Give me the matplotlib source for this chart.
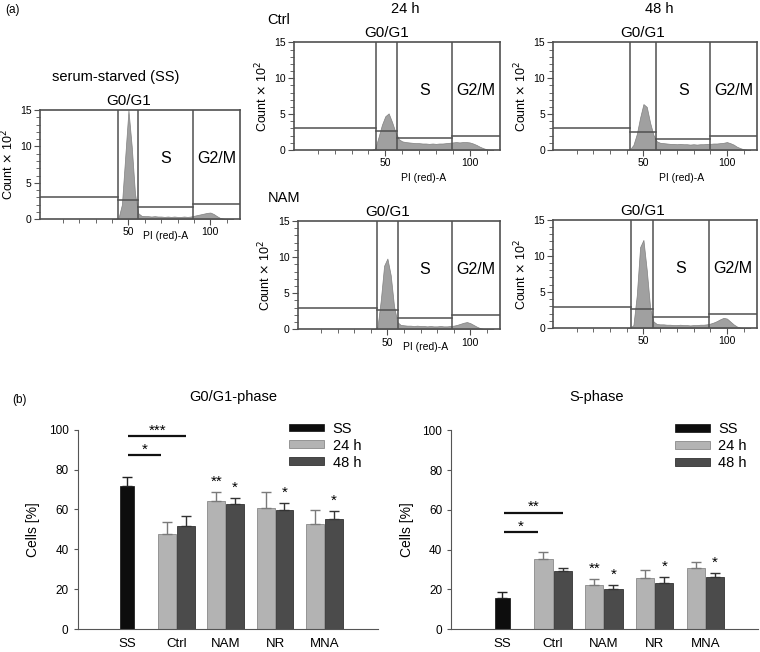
import matplotlib
matplotlib.use("Agg")
import matplotlib.pyplot as plt
import numpy as np
from matplotlib.ticker import FixedLocator, MultipleLocator

plt.rcParams["font.family"] = ["Liberation Sans", "DejaVu Sans"]

# ---- (a) flow cytometry histograms: counts (x 10^2) on a 2-unit PI grid ----
hist_x = np.arange(40, 116, 2)
ss_counts = [0, 0, 0.2, 2.0, 8.5, 15, 10, 3.5, 0.8, 0.45,
             0.4, 0.4, 0.35, 0.4, 0.35, 0.35, 0.3, 0.35, 0.3, 0.35, 0.3, 0.3, 0.35, 0.3, 0.35,
             0.45, 0.55, 0.65, 0.75, 0.85, 0.9, 0.7, 0.4, 0.15, 0.05, 0, 0, 0]
ctrl24_counts = [0, 0, 0.2, 1.8, 3.5, 4.7, 5.1, 3.9, 2.5, 1.5,
                 1.2, 1.1, 1.05, 1.0, 0.95, 0.95, 0.9, 0.9, 0.85, 0.9, 0.85, 0.9, 0.9, 0.95, 1.0,
                 1.05, 1.1, 1.05, 1.1, 1.1, 1.05, 0.9, 0.7, 0.45, 0.25, 0.1, 0.02, 0]
ctrl48_counts = [0, 0.1, 0.7, 2.2, 4.5, 6.4, 6.0, 3.8, 2.1, 1.2,
                 1.0, 0.95, 0.9, 0.85, 0.85, 0.8, 0.85, 0.8, 0.8, 0.75, 0.8, 0.75, 0.8, 0.8, 0.85,
                 0.85, 0.9, 0.9, 0.95, 1.0, 1.1, 0.95, 0.75, 0.45, 0.25, 0.1, 0.02, 0]
nam24_counts = [0, 0, 0.3, 4.0, 8.8, 9.8, 7.5, 3.2, 1.0, 0.6,
                0.55, 0.5, 0.5, 0.45, 0.5, 0.45, 0.45, 0.4, 0.45, 0.4, 0.4, 0.45, 0.4, 0.4, 0.45,
                0.5, 0.6, 0.75, 0.9, 1.0, 0.85, 0.6, 0.35, 0.15, 0.05, 0, 0, 0]
nam48_counts = [0, 0, 0.4, 4.5, 11.2, 12.2, 8.0, 2.8, 0.9, 0.55,
                0.5, 0.5, 0.45, 0.45, 0.4, 0.4, 0.45, 0.4, 0.4, 0.35, 0.4, 0.4, 0.45, 0.45, 0.5,
                0.6, 0.75, 0.95, 1.2, 1.4, 1.3, 0.9, 0.5, 0.2, 0.05, 0, 0, 0]

# gate borders (PI) and gate marker levels (x 10^2): left, G0/G1, S, G2/M
ss_gates, ss_levels = [43.8, 56.1, 89.6], [3.07, 2.6, 1.65, 2.05]
ctrl24_gates, ctrl24_levels = [44.4, 56.9, 89.6], [3.1, 2.65, 1.63, 2.0]
ctrl48_gates, ctrl48_levels = [41.9, 57.7, 90.1], [3.1, 2.45, 1.57, 2.0]
nam24_gates, nam24_levels = [43.6, 56.3, 89.2], [3.0, 2.7, 1.6, 2.0]
nam48_gates, nam48_levels = [42.8, 55.7, 89.0], [2.9, 2.6, 1.5, 1.95]

# ---- (b) bar charts ----
groups = ["SS", "Ctrl", "NAM", "NR", "MNA"]
g1_ss, g1_ss_sd = 71.8, 4.5
g1_24 = [47.6, 64.1, 60.8, 52.6]
g1_24_sd = [6.1, 4.7, 8.0, 7.3]
g1_48 = [51.6, 62.9, 59.8, 55.3]
g1_48_sd = [5.0, 2.9, 3.5, 4.0]
g1_star_24 = ["", "**", "", ""]
g1_star_48 = ["", "*", "*", "*"]
g1_brackets = [("*", 87.1, "24 h"), ("***", 96.6, "48 h")]

s_ss, s_ss_sd = 15.9, 2.9
s_24 = [35.3, 22.0, 25.8, 31.0]
s_24_sd = [3.6, 3.1, 4.2, 2.7]
s_48 = [29.1, 20.4, 23.0, 26.0]
s_48_sd = [1.9, 2.0, 3.1, 2.3]
s_star_24 = ["", "**", "", ""]
s_star_48 = ["", "*", "*", "*"]
s_brackets = [("*", 48.9, "24 h"), ("**", 58.6, "48 h")]

GATE = "#505050"
FILL = "#a0a0a0"


def flow_panel(ax, counts, gates, levels, xlab_off):
    x0, x1 = -4, 118
    ax.fill_between(hist_x, counts, color=FILL, edgecolor="#808080", linewidth=0.5)
    edges = [x0] + gates + [x1]
    for i, lev in enumerate(levels):
        ax.plot([edges[i], edges[i + 1]], [lev, lev], color=GATE, lw=1.1)
    for g in gates:
        ax.axvline(g, color=GATE, lw=1.1)
    ax.set_xlim(x0, x1)
    ax.set_ylim(0, 15)
    ax.xaxis.set_major_locator(FixedLocator([50, 100]))
    ax.xaxis.set_minor_locator(FixedLocator([10, 20, 30, 40, 60, 70, 80, 90, 110]))
    ax.yaxis.set_major_locator(MultipleLocator(5))
    ax.yaxis.set_minor_locator(MultipleLocator(1))
    ax.tick_params(which="both", direction="out", color=GATE, labelsize=7.5, pad=2)
    ax.tick_params(which="major", length=4)
    ax.tick_params(which="minor", length=3)
    for sp in ax.spines.values():
        sp.set_color(GATE)
        sp.set_linewidth(1.2)
    ax.set_ylabel("Count $\\times$ 10$^2$", fontsize=9, labelpad=3)
    ax.text(0.63, -xlab_off, "PI (red)-A", transform=ax.transAxes, ha="center",
            va="center", fontsize=7.5)
    ax.text((gates[0] + gates[1]) / 2, 15.3, "G0/G1", ha="center", va="bottom", fontsize=11)
    ax.text((gates[1] + gates[2]) / 2, 8.3, "S", ha="center", va="center", fontsize=11.5)
    ax.text((gates[2] + x1) / 2, 8.3, "G2/M", ha="center", va="center", fontsize=11.5)


def bar_panel(ax, ss, ss_sd, m24, sd24, m48, sd48, st24, st48, brackets, xmax):
    c24, c48, css = "#b3b3b3", "#4b4b4b", "#0d0d0d"
    pos = np.arange(1, len(groups) + 1)
    tp = pos[1:]
    off, w = 0.19, 0.36
    b0 = ax.bar(pos[0], ss, width=0.29, color=css, edgecolor=css, linewidth=0.5, label="SS")
    b1 = ax.bar(tp - off, m24, width=w, color=c24, edgecolor="#8a8a8a", linewidth=0.6, label="24 h")
    b2 = ax.bar(tp + off, m48, width=w, color=c48, edgecolor="#333333", linewidth=0.6, label="48 h")
    ax.errorbar(pos[0], ss, yerr=[[0], [ss_sd]], fmt="none", ecolor="#222222",
                elinewidth=1, capsize=3.5, capthick=1)
    ax.errorbar(tp - off, m24, yerr=[np.zeros(len(m24)), sd24], fmt="none", ecolor="#7a7a7a",
                elinewidth=1, capsize=3.5, capthick=1)
    ax.errorbar(tp + off, m48, yerr=[np.zeros(len(m48)), sd48], fmt="none", ecolor="#333333",
                elinewidth=1, capsize=3.5, capthick=1)
    for x, m, s, t in zip(tp - off, m24, sd24, st24):
        if t:
            ax.annotate(t, (x, m + s), xytext=(0, 4.5), textcoords="offset points",
                        ha="center", va="baseline", fontsize=11)
    for x, m, s, t in zip(tp + off, m48, sd48, st48):
        if t:
            ax.annotate(t, (x, m + s), xytext=(0, 4.5), textcoords="offset points",
                        ha="center", va="baseline", fontsize=11)
    for t, y, which in brackets:
        xe = pos[1] - 0.3 if which == "24 h" else pos[1] + 0.2
        ax.plot([pos[0] + 0.03, xe], [y, y], color="#111111", lw=1.6, solid_capstyle="butt")
        ax.annotate(t, ((pos[0] + 0.03 + xe) / 2, y), xytext=(0, 1), textcoords="offset points",
                    ha="center", va="baseline", fontsize=11)
    ax.set_xlim(0, xmax)
    ax.set_ylim(0, 100)
    ax.set_xticks(pos)
    ax.set_xticklabels(groups, fontsize=9.5)
    ax.set_yticks(np.arange(0, 101, 20))
    ax.tick_params(axis="y", labelsize=8.5, length=3, color="#555555")
    ax.tick_params(axis="x", length=0, pad=6)
    for s in ["top", "right"]:
        ax.spines[s].set_visible(False)
    for s in ["left", "bottom"]:
        ax.spines[s].set_color("#555555")
    ax.set_ylabel("Cells [%]", fontsize=10, labelpad=6)
    return [b0, b1, b2]


fig = plt.figure(figsize=(7.6, 6.52), dpi=100)

ax_ss = fig.add_axes([0.0526, 0.664, 0.263, 0.167])
ax_c24 = fig.add_axes([0.387, 0.770, 0.271, 0.165])
ax_c48 = fig.add_axes([0.728, 0.770, 0.268, 0.165])
ax_n24 = fig.add_axes([0.392, 0.495, 0.266, 0.166])
ax_n48 = fig.add_axes([0.728, 0.497, 0.268, 0.166])

flow_panel(ax_ss, ss_counts, ss_gates, ss_levels, 0.16)
flow_panel(ax_c24, ctrl24_counts, ctrl24_gates, ctrl24_levels, 0.26)
flow_panel(ax_c48, ctrl48_counts, ctrl48_gates, ctrl48_levels, 0.26)
flow_panel(ax_n24, nam24_counts, nam24_gates, nam24_levels, 0.16)
flow_panel(ax_n48, nam48_counts, nam48_gates, nam48_levels, 0.16)
ax_n48.texts[0].set_visible(False)

fig.text(0.007, 0.985, "(a)", fontsize=8.5, va="center")
fig.text(0.533, 0.986, "24 h", fontsize=10.5, ha="center", va="center")
fig.text(0.868, 0.986, "48 h", fontsize=10.5, ha="center", va="center")
fig.text(0.352, 0.969, "Ctrl", fontsize=10.5, va="center")
fig.text(0.352, 0.696, "NAM", fontsize=10.5, va="center")
fig.text(0.152, 0.882, "serum-starved (SS)", fontsize=10.5, ha="center", va="center")

ax_g1 = fig.add_axes([0.102, 0.035, 0.395, 0.306])
ax_s = fig.add_axes([0.594, 0.035, 0.403, 0.305])
h1 = bar_panel(ax_g1, g1_ss, g1_ss_sd, g1_24, g1_24_sd, g1_48, g1_48_sd,
               g1_star_24, g1_star_48, g1_brackets, 6.08)
h2 = bar_panel(ax_s, s_ss, s_ss_sd, s_24, s_24_sd, s_48, s_48_sd,
               s_star_24, s_star_48, s_brackets, 6.03)
for ax, h, bx in [(ax_g1, h1, 0.704), (ax_s, h2, 0.729)]:
    ax.legend(handles=h, loc="upper left", bbox_to_anchor=(bx, 1.04), frameon=False,
              fontsize=10.5, handlelength=2.4, handleheight=0.45, labelspacing=0.2,
              handletextpad=0.6, borderpad=0, borderaxespad=0)

fig.text(0.016, 0.386, "(b)", fontsize=8.5, va="center")
fig.text(0.307, 0.391, "G0/G1-phase", fontsize=10.5, ha="center", va="center")
fig.text(0.785, 0.391, "S-phase", fontsize=10.5, ha="center", va="center")

fig.savefig("out.png", dpi=100)
